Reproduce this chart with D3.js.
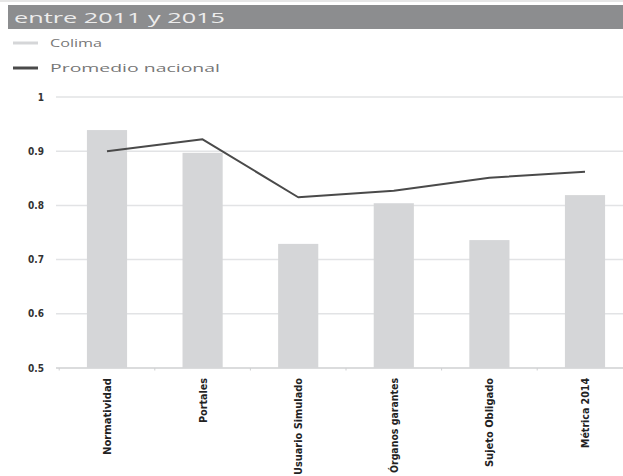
<!DOCTYPE html>
<html>
<head>
<meta charset="utf-8">
<script src="https://cdn.jsdelivr.net/npm/d3@7"></script>
<style>
  html, body { margin: 0; padding: 0; background: #fff; }
  svg { display: block; }
</style>
</head>
<body>
<svg id="chart" width="623" height="476"></svg>
<script>
const categories = ["Normatividad", "Portales", "Usuario Simulado", "Órganos garantes", "Sujeto Obligado", "Métrica 2014"];
const colimaValues = [0.939, 0.897, 0.729, 0.804, 0.736, 0.819];
const nacionalValues = [0.900, 0.922, 0.815, 0.827, 0.851, 0.862];
const yTicks = [0.5, 0.6, 0.7, 0.8, 0.9, 1];
const yTickLabels = ["0.5", "0.6", "0.7", "0.8", "0.9", "1"];
const titleText = "entre 2011 y 2015";
const legendLabels = ["Colima", "Promedio nacional"];
const labelLengths = [77, 45, 97, 95, 89, 70];

const svg = d3.select("#chart");

// top thin line and title bar
svg.append("rect").attr("x", 0).attr("y", 0).attr("width", 623).attr("height", 2).attr("fill", "#e6e6e6");
svg.append("rect").attr("x", 8).attr("y", 5).attr("width", 615).attr("height", 24).attr("fill", "#8c8d8f");
svg.append("text").attr("x", 14).attr("y", 23)
  .attr("font-family", "'Open Sans', 'DejaVu Sans', sans-serif")
  .attr("font-size", 15).attr("fill", "#ececec")
  .attr("textLength", 211).attr("lengthAdjust", "spacingAndGlyphs")
  .text(titleText);

// legend
const legendColors = ["#d5d6d8", "#4a4a4a"];
const legendY = [43, 68];
const legendWidths = [52, 170];
legendLabels.forEach((l, i) => {
  svg.append("line").attr("x1", 13).attr("x2", 38).attr("y1", legendY[i]).attr("y2", legendY[i])
    .attr("stroke", legendColors[i]).attr("stroke-width", 3);
  svg.append("text").attr("x", 50).attr("y", legendY[i] + 4)
    .attr("font-family", "'Open Sans', 'DejaVu Sans', sans-serif")
    .attr("font-size", 11.5).attr("fill", "#777")
    .attr("textLength", legendWidths[i]).attr("lengthAdjust", "spacingAndGlyphs")
    .text(l);
});

// scales
const y = d3.scaleLinear().domain([0.5, 1]).range([368, 97]);
const x = d3.scaleBand().domain(categories).range([59.2, 632.8]).paddingInner(0.58).paddingOuter(0.29);

// gridlines
svg.append("g").selectAll("line").data(yTicks).join("line")
  .attr("x1", 56).attr("x2", 623)
  .attr("y1", d => y(d)).attr("y2", d => y(d))
  .attr("stroke", d => d === 0.5 ? "#cfd0d2" : "#e2e3e5").attr("stroke-width", 1.5);

// y tick labels
svg.append("g").selectAll("text").data(yTicks).join("text")
  .attr("x", 44).attr("y", d => y(d) + 3.5)
  .attr("text-anchor", "end")
  .attr("font-family", "'Liberation Sans Narrow', 'DejaVu Sans Condensed', sans-serif")
  .attr("font-weight", "bold").attr("font-size", 10).attr("fill", "#333")
  .text((d, i) => yTickLabels[i]);

// bars
svg.append("g").selectAll("rect").data(categories).join("rect")
  .attr("x", d => x(d)).attr("width", x.bandwidth())
  .attr("y", (d, i) => y(colimaValues[i]))
  .attr("height", (d, i) => y(0.5) - y(colimaValues[i]))
  .attr("fill", "#d5d6d8");

// x axis small ticks at band boundaries
const boundaries = d3.range(categories.length + 1).map(i => x.range()[0] + i * x.step());
svg.append("g").selectAll("line").data(boundaries).join("line")
  .attr("x1", d => d).attr("x2", d => d).attr("y1", 368).attr("y2", 370.5)
  .attr("stroke", "#cfd0d2").attr("stroke-width", 1);

// line
const line = d3.line()
  .x((d, i) => x(categories[i]) + x.bandwidth() / 2)
  .y(d => y(d));
svg.append("path").datum(nacionalValues)
  .attr("d", line).attr("fill", "none")
  .attr("stroke", "#4a4a4a").attr("stroke-width", 2).attr("stroke-linejoin", "round");

// x labels rotated
svg.append("g").selectAll("text").data(categories).join("text")
  .attr("transform", d => `translate(${x(d) + x.bandwidth() / 2 + 4},378) rotate(-90)`)
  .attr("text-anchor", "end")
  .attr("font-family", "'Liberation Sans Narrow', 'DejaVu Sans Condensed', sans-serif")
  .attr("font-weight", "bold").attr("font-size", 11).attr("fill", "#222")
  .attr("textLength", (d, i) => labelLengths[i]).attr("lengthAdjust", "spacingAndGlyphs")
  .text(d => d);
</script>
</body>
</html>
